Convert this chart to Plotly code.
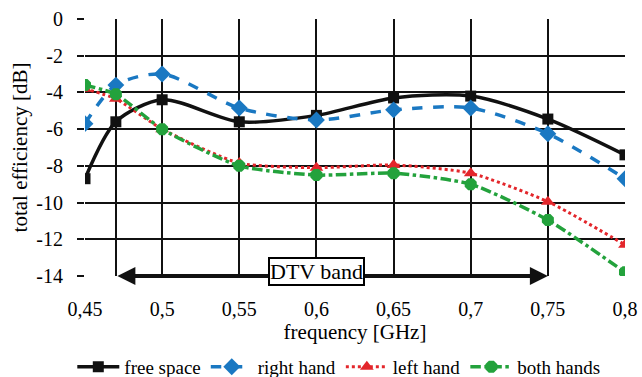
import plotly.graph_objects as go

freq = [0.45, 0.47, 0.5, 0.55, 0.6, 0.65, 0.7, 0.75, 0.8]
free_space = [-8.7, -5.6, -4.4, -5.6, -5.25, -4.3, -4.2, -5.45, -7.4]
right_hand = [-5.7, -3.6, -3.0, -4.85, -5.5, -4.95, -4.85, -6.25, -8.7]
left_hand = [-3.8, -4.35, -6.0, -7.85, -8.1, -7.95, -8.4, -9.95, -12.3]
both_hands = [-3.6, -4.1, -6.0, -8.0, -8.5, -8.4, -9.0, -10.95, -13.8]

x_tickvals = [0.45, 0.47, 0.5, 0.55, 0.6, 0.65, 0.7, 0.75, 0.8]
x_ticktext = ["0,45", "", "0,5", "0,55", "0,6", "0,65", "0,7", "0,75", "0,8"]
y_tickvals = [0, -2, -4, -6, -8, -10, -12, -14]
y_ticktext = ["0", "-2", "-4", "-6", "-8", "-10", "-12", "-14"]
band_start, band_end = 0.47, 0.75

FONT = "Liberation Serif"

fig = go.Figure()
fig.add_trace(go.Scatter(x=freq, y=free_space, name="free space", mode="lines+markers",
                         line=dict(color="#111111", width=3.5, shape="spline", smoothing=0.8),
                         marker=dict(symbol="square", size=11, color="#111111")))
fig.add_trace(go.Scatter(x=freq, y=right_hand, name="right hand", mode="lines+markers",
                         line=dict(color="#1a78c2", width=3.5, dash="dash", shape="spline", smoothing=0.8),
                         marker=dict(symbol="diamond", size=13, color="#1a78c2")))
fig.add_trace(go.Scatter(x=freq, y=left_hand, name="left hand", mode="lines+markers",
                         line=dict(color="#e3262b", width=3, dash="dot", shape="spline", smoothing=0.6),
                         marker=dict(symbol="triangle-up", size=12, color="#e3262b")))
fig.add_trace(go.Scatter(x=freq, y=both_hands, name="both hands", mode="lines+markers",
                         line=dict(color="#23a23c", width=3.5, dash="dashdot", shape="spline", smoothing=0.6),
                         marker=dict(symbol="octagon", size=13, color="#23a23c")))

# DTV band double arrow
fig.add_annotation(x=band_end, y=-14, ax=band_start, ay=-14, xref="x", yref="y",
                   axref="x", ayref="y", text="", showarrow=True,
                   arrowhead=2, startarrowhead=2, arrowside="end+start",
                   arrowsize=0.9, startarrowsize=0.9, arrowwidth=4, arrowcolor="#111111")
fig.add_annotation(x=0.6, y=-14, xref="x", yref="y", yshift=5,
                   text="DTV band", showarrow=False,
                   font=dict(family=FONT, size=22, color="black"),
                   bgcolor="white", bordercolor="black", borderwidth=2, borderpad=0)

fig.update_layout(
    width=642, height=377,
    margin=dict(l=85, r=17, t=19, b=101, autoexpand=False),
    paper_bgcolor="white", plot_bgcolor="white",
    font=dict(family=FONT, size=19, color="black"),
    showlegend=True,
    legend=dict(orientation="h", x=0.47, xanchor="center", y=-0.28, yanchor="top",
                font=dict(family=FONT, size=19, color="black"),
                itemwidth=42, traceorder="normal", bgcolor="rgba(0,0,0,0)"),
    xaxis=dict(range=[0.45, 0.8], tickvals=x_tickvals, ticktext=x_ticktext,
               showgrid=True, gridcolor="#111111", gridwidth=2, zeroline=False,
               showline=False, ticks="", ticklabelstandoff=19,
               tickfont=dict(family=FONT, size=20, color="black"),
               title=dict(text="frequency [GHz]", font=dict(family=FONT, size=21, color="black"), standoff=2)),
    yaxis=dict(range=[-14, 0], tickvals=y_tickvals, ticktext=y_ticktext,
               showgrid=True, gridcolor="#111111", gridwidth=2, zeroline=False,
               showline=False, ticks="outside", ticklen=7, tickwidth=2, tickcolor="#111111",
               ticklabelstandoff=10,
               tickfont=dict(family=FONT, size=20, color="black"),
               title=dict(text="total efficiency [dB]", font=dict(family=FONT, size=21, color="black"), standoff=2)),
)

fig.write_html("out.html")
